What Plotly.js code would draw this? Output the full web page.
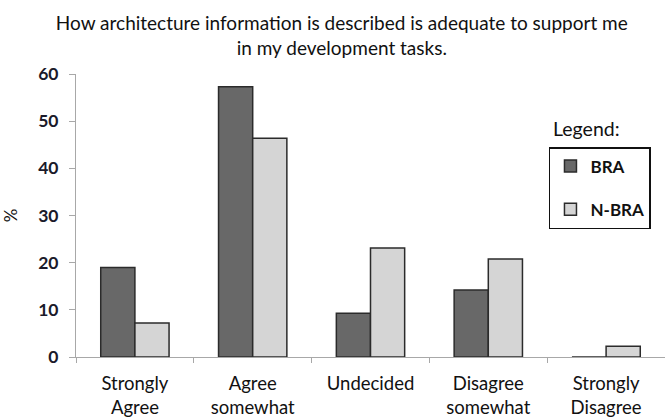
<!DOCTYPE html>
<html>
<head>
<meta charset="utf-8">
<script src="https://cdn.plot.ly/plotly-3.0.1.min.js"></script>
<style>html,body{margin:0;padding:0;background:#fff;}#chart{width:665px;height:420px;}</style>
</head>
<body>
<div id="chart"></div>
<script>
const categories = ["Strongly<br>Agree", "Agree<br>somewhat", "Undecided", "Disagree<br>somewhat", "Strongly<br>Disagree"];
const braValues = [19, 57.3, 9.3, 14.2, 0];
const nbraValues = [7.2, 46.4, 23.1, 20.8, 2.3];
const seriesNames = ["BRA", "N-BRA"];
const yTicks = [0, 10, 20, 30, 40, 50, 60];

const fontFam = "Lato, 'Open Sans', sans-serif";

const traces = [
  {
    type: "bar", name: seriesNames[0], x: categories, y: braValues,
    legendgroup: "a",
    marker: {color: "#686868", line: {color: "#2b2b2b", width: 1.5}},
    hoverinfo: "skip"
  },
  {
    type: "bar", name: seriesNames[1], x: categories, y: nbraValues,
    legendgroup: "b",
    marker: {color: "#d5d5d5", line: {color: "#2b2b2b", width: 1.5}},
    hoverinfo: "skip"
  }
];

const layout = {
  width: 665, height: 420,
  margin: {l: 76, r: 0, t: 74, b: 63},
  paper_bgcolor: "#fff", plot_bgcolor: "#fff",
  barmode: "group", bargap: 0.42, bargroupgap: 0,
  font: {family: fontFam, color: "#111", size: 17},
  title: {
    text: "How architecture information is described is adequate to support me<br>in my development tasks.",
    x: 0.514, xref: "container", xanchor: "center",
    y: 0.928, yref: "container", yanchor: "middle",
    font: {size: 19, color: "#111", family: fontFam}
  },
  xaxis: {
    type: "category",
    range: [-0.5, 4.5],
    showline: true, linecolor: "#a8a8a8", linewidth: 1,
    ticks: "outside", tickson: "boundaries", ticklen: 5, tickcolor: "#a8a8a8",
    ticklabelstandoff: 10,
    showgrid: false, zeroline: false,
    tickfont: {size: 18.5, color: "#111", family: fontFam},
    fixedrange: true
  },
  yaxis: {
    range: [0, 60],
    tickvals: yTicks,
    showline: true, linecolor: "#a8a8a8", linewidth: 1,
    ticks: "outside", ticklen: 6, tickcolor: "#a8a8a8",
    ticklabelstandoff: 7,
    showgrid: false, zeroline: false,
    tickfont: {size: 17.5, color: "#1a1a2a", family: fontFam, weight: "bold"},
    title: {text: "%", font: {size: 17, color: "#111", family: fontFam}, standoff: 18},
    fixedrange: true
  },
  showlegend: true,
  legend: {
    x: 0.803, xanchor: "left", y: 0.742, yanchor: "top",
    bordercolor: "#111", borderwidth: 1.5, bgcolor: "#fff",
    traceorder: "grouped", tracegroupgap: 18,
    font: {size: 17, color: "#111", family: fontFam, weight: "bold"}
  },
  annotations: [
    {text: "Legend:", xref: "paper", yref: "paper", x: 0.806, y: 0.808, xanchor: "left", yanchor: "middle",
     showarrow: false, font: {size: 19.5, color: "#111", family: fontFam}}
  ]
};

Plotly.newPlot("chart", traces, layout, {displayModeBar: false, staticPlot: true});
</script>
</body>
</html>
